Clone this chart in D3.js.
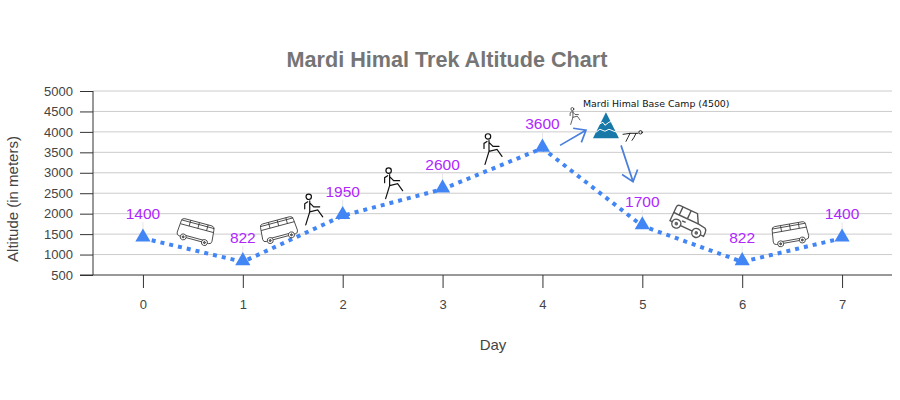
<!DOCTYPE html>
<html>
<head>
<meta charset="utf-8">
<script src="https://cdn.jsdelivr.net/npm/d3@7"></script>
<style>
  html, body { margin: 0; padding: 0; background: #fff; }
  text { font-family: "Liberation Sans", Arial, sans-serif; }
</style>
</head>
<body>
<div id="chart"></div>
<script>
var days = [0, 1, 2, 3, 4, 5, 6, 7];
var altitudes = [1400, 822, 1950, 2600, 3600, 1700, 822, 1400];
var yTicks = [500, 1000, 1500, 2000, 2500, 3000, 3500, 4000, 4500, 5000];

// little pictures, placed in chart units (day, altitude), angle in degrees
var buses = [[0.53, 1552, 15], [1.36, 1601, -15], [6.48, 1502, -10]];
var jeeps = [[5.47, 1798, 25]];
var walkers = [[1.69, 2094, 1], [2.49, 2734, 1], [3.485, 3571, 1], [4.316, 4384, 0.55]];
var sliders = [[4.897, 3916]];
var peak = [4.636, 4162];
var peakLabel = [4.406, 4606, "Mardi Himal Base Camp (4500)"];
var arrows = [[4.176, 3670, 4.436, 4040], [4.787, 3670, 4.907, 2784]];

var width = 900, height = 400;
var margin = {left: 93, right: 8, top: 91, bottom: 125};

var svg = d3.select("#chart").append("svg")
  .attr("width", width).attr("height", height)
  .style("display", "block");

var x = d3.scaleLinear().domain([-0.5, 7.5]).range([margin.left, width - margin.right]);
var y = d3.scaleLinear().domain([500, 5000]).range([height - margin.bottom, margin.top]);

// grid
svg.append("g").selectAll("line").data(yTicks.slice(1)).enter().append("line")
  .attr("x1", margin.left).attr("x2", width - margin.right)
  .attr("y1", function(d){ return y(d); }).attr("y2", function(d){ return y(d); })
  .attr("stroke", "#cccccc").attr("stroke-width", 1);

// axes
var yAxis = d3.axisLeft(y).tickValues(yTicks).tickSize(13).tickPadding(7).tickFormat(d3.format("d"));
var xAxis = d3.axisBottom(x).tickValues(days).tickSize(13).tickPadding(12).tickFormat(d3.format("d"));

var gy = svg.append("g").attr("transform", "translate(" + margin.left + ",0)").call(yAxis);
var gx = svg.append("g").attr("transform", "translate(0," + y(500) + ")").call(xAxis);
gy.select(".domain").attr("stroke", "#333").attr("d", "M0," + y(5000) + "V" + y(500));
gx.select(".domain").attr("stroke", "#333").attr("d", "M80,0H" + (width - margin.right));
[gy, gx].forEach(function(g){
  g.selectAll(".tick line").attr("stroke", "#333");
  g.selectAll("text").attr("fill", "#444").style("font-size", "13px")
    .style("font-family", "'Liberation Sans', Arial, sans-serif");
});

// titles
svg.append("text").attr("x", 447).attr("y", 67).attr("text-anchor", "middle")
  .attr("fill", "#757575").style("font-size", "21.6px").style("font-weight", "bold")
  .text("Mardi Himal Trek Altitude Chart");
svg.append("text").attr("x", 493).attr("y", 350).attr("text-anchor", "middle")
  .attr("fill", "#444").style("font-size", "15px").text("Day");
svg.append("text").attr("transform", "translate(18,199) rotate(-90)").attr("text-anchor", "middle")
  .attr("fill", "#444").style("font-size", "15px").text("Altitude (in meters)");

// stems between the value labels and the points
svg.append("g").selectAll("line").data(days).enter().append("line")
  .attr("x1", function(d){ return x(d); }).attr("x2", function(d){ return x(d); })
  .attr("y1", function(d, i){ return y(altitudes[i]) - 16; })
  .attr("y2", function(d, i){ return y(altitudes[i]) - 6; })
  .attr("stroke", "#e6e6e6");

// the line
var line = d3.line().x(function(d){ return x(d); }).y(function(d, i){ return y(altitudes[i]); });
svg.append("path").datum(days).attr("d", line).attr("fill", "none")
  .attr("stroke", "#4285f4").attr("stroke-width", 4).attr("stroke-dasharray", "4 5");

// triangles
svg.append("g").selectAll("path").data(days).enter().append("path")
  .attr("d", d3.symbol().type(d3.symbolTriangle).size(100))
  .attr("transform", function(d, i){ return "translate(" + x(d) + "," + (y(altitudes[i]) - 1) + ")"; })
  .attr("fill", "#4285f4");

// value labels
svg.append("g").selectAll("text").data(days).enter().append("text")
  .attr("x", function(d){ return x(d); })
  .attr("y", function(d, i){ return y(altitudes[i]) - 19; })
  .attr("text-anchor", "middle").attr("fill", "#b026ff").style("font-size", "15.5px")
  .text(function(d, i){ return altitudes[i]; });

function place(d, inner) {
  return "translate(" + x(d[0]) + "," + y(d[1]) + ")" + inner;
}

// bus, drawn round its own middle
function drawBus(g) {
  g.attr("fill", "none").attr("stroke", "#333").attr("stroke-width", 0.8);
  g.append("path").attr("fill", "#fff").attr("d", "M-17,-7 Q-17,-10 -14,-10 L14,-10 Q17,-10 17,-6 L18,5 Q18,8 15,8 L-15,8 Q-18,8 -18,5 Z");
  g.append("path").attr("d", "M-17,-8 H17 M-17,-4 H17 M-8,-10 V-4 M1,-10 V-4 M10,-10 V-4 M-9,6 H9");
  [-11, 11].forEach(function(cx){
    g.append("circle").attr("cx", cx).attr("cy", 8).attr("r", 3).attr("fill", "#fff");
    g.append("circle").attr("cx", cx).attr("cy", 8).attr("r", 1).attr("fill", "#777");
  });
}

function drawJeep(g) {
  g.attr("fill", "none").attr("stroke", "#555").attr("stroke-width", 1.4);
  g.append("path").attr("fill", "#fff").attr("d", "M-18,6 L-18,-8 Q-18,-11 -15,-11 L4,-11 L9,-2 L17,-1 Q19,0 19,3 L19,7 L-18,7 Z");
  g.append("path").attr("d", "M-12,-11 V-2 M-3,-11 V-2 M-18,-2 H9 M-7,2 H-3");
  [-11, 11].forEach(function(cx){
    g.append("circle").attr("cx", cx).attr("cy", 7).attr("r", 4.5).attr("fill", "#fff");
    g.append("circle").attr("cx", cx).attr("cy", 7).attr("r", 1.8).attr("fill", "#666").attr("stroke", "none");
  });
}

// walking figure
function drawWalker(g) {
  g.attr("fill", "none").attr("stroke", "#111").attr("stroke-width", 1.2).attr("stroke-linecap", "round");
  g.append("circle").attr("cx", -3).attr("cy", -13).attr("r", 2.7);
  g.append("path").attr("d", "M-2,-9 L-2,2 L-6,15 M-2,2 L6,0 L11,7 M-2,-7 L2,-3 L8,-3 M-4,-8 L-7,-6 L-7,-1");
}

// figure lying nearly flat, sliding down the far side
function drawSlider(g) {
  g.attr("fill", "none").attr("stroke", "#111").attr("stroke-width", 0.9).attr("stroke-linecap", "round");
  g.append("circle").attr("cx", 8.5).attr("cy", -3).attr("r", 1.7);
  g.append("path").attr("d", "M6,-2 L-2,-2 L-9,-1 M-2,-2 L-4,2 L-6,6 M4,-2 L2,2 L0,5");
}

buses.forEach(function(d){
  svg.append("g").attr("transform", place(d, " rotate(" + d[2] + ")")).call(drawBus);
});
jeeps.forEach(function(d){
  svg.append("g").attr("transform", place(d, " rotate(" + d[2] + ")")).call(drawJeep);
});
walkers.forEach(function(d){
  svg.append("g").attr("transform", place(d, " scale(" + d[2] + ")")).call(drawWalker);
});
sliders.forEach(function(d){
  svg.append("g").attr("transform", place(d, "")).call(drawSlider);
});

// mountain
var mountain = svg.append("g").attr("transform", place(peak, ""));
mountain.append("path").attr("d", "M0,-13 L13,13 L-13,13 Z").attr("fill", "#1878a8");
mountain.append("path").attr("fill", "none").attr("stroke", "#fff").attr("stroke-width", 1)
  .attr("d", "M-7,-1 L-3,-3 L-1,0 L3,-3 L6,-4 M-10,7 L-6,4 L-1,6 L3,4 L8,6 L11,7");

svg.append("text").attr("x", x(peakLabel[0])).attr("y", y(peakLabel[1]))
  .attr("fill", "#111").style("font-family", "'DejaVu Sans', sans-serif").style("font-size", "9.4px")
  .text(peakLabel[2]);

// arrows either side of the peak
arrows.forEach(function(a){
  var x1 = x(a[0]), y1 = y(a[1]), x2 = x(a[2]), y2 = y(a[3]);
  var ang = Math.atan2(y2 - y1, x2 - x1), len = 13, spread = 0.68;
  var head = "M" + (x2 - len * Math.cos(ang - spread)) + "," + (y2 - len * Math.sin(ang - spread)) +
    "L" + x2 + "," + y2 +
    "L" + (x2 - len * Math.cos(ang + spread)) + "," + (y2 - len * Math.sin(ang + spread));
  svg.append("path").attr("d", "M" + x1 + "," + y1 + "L" + x2 + "," + y2 + head)
    .attr("fill", "none").attr("stroke", "#4a7fdc").attr("stroke-width", 1.7);
});
</script>
</body>
</html>
